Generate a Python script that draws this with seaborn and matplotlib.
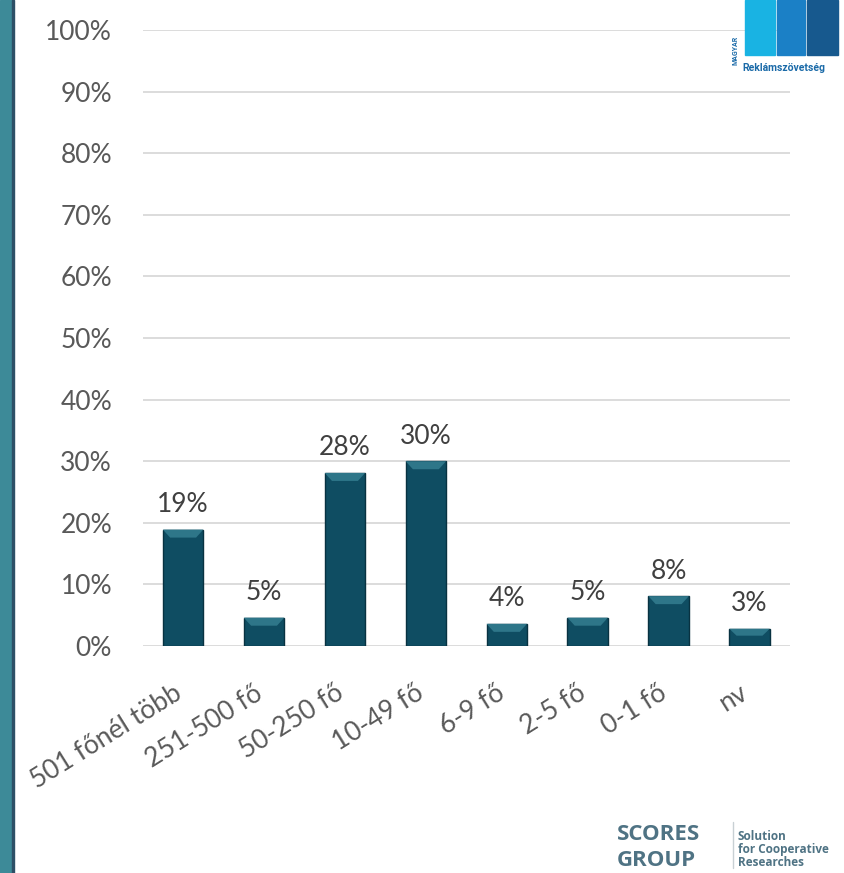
import numpy as np
import pandas as pd
import matplotlib
matplotlib.use("Agg")
import matplotlib.pyplot as plt
import seaborn as sns
from matplotlib.patches import Rectangle, Polygon
from matplotlib.lines import Line2D

# data (percent)
categories = ["501 főnél több", "251-500 fő", "50-250 fő", "10-49 fő",
              "6-9 fő", "2-5 fő", "0-1 fő", "nv"]
shares = [18.9, 4.6, 28.1, 30.0, 3.6, 4.6, 8.1, 2.8]
y_ticks = [0, 10, 20, 30, 40, 50, 60, 70, 80, 90, 100]

df = pd.DataFrame({"kategoria": categories, "arany": shares})

sns.set_style("white")
plt.rcParams["font.family"] = ["Lato", "DejaVu Sans"]

fig = plt.figure(figsize=(8.44, 8.73), dpi=100)
ax = fig.add_axes([0.169, 0.26, 0.767, 0.7056])

bar_col = "#0f4d62"
sns.barplot(data=df, x="kategoria", y="arany", color=bar_col, saturation=1,
            width=0.5, ax=ax, edgecolor="#083241", linewidth=1.0, zorder=3)

# light bevel on top of each bar
for p in ax.containers[0]:
    x0, w, h = p.get_x(), p.get_width(), p.get_height()
    t = min(1.3, h * 0.4)
    d = w * 0.18
    ax.add_patch(Polygon([(x0, h), (x0 + w, h), (x0 + w - d, h - t), (x0 + d, h - t)],
                         closed=True, facecolor="#2e7689", edgecolor="none", zorder=4))

ax.set_ylim(0, 100)
ax.set_yticks(y_ticks)
ax.set_yticklabels([f"{t}%" for t in y_ticks])
ax.grid(axis="y", color="#d9d9d9", linewidth=1.3, zorder=0)
ax.grid(axis="x", visible=False)
for s in ax.spines.values():
    s.set_visible(False)
ax.tick_params(axis="y", length=0, pad=22, labelsize=19, labelcolor="#595959")
ax.tick_params(axis="x", length=0, pad=37, labelsize=19, labelcolor="#595959")
ax.set_xlabel("")
ax.set_ylabel("")
for lab in ax.get_xticklabels():
    lab.set_rotation(32)
    lab.set_ha("right")
    lab.set_va("baseline")
    lab.set_rotation_mode("anchor")

ax.bar_label(ax.containers[0], labels=[f"{round(v)}%" for v in shares],
             padding=9, fontsize=19, color="#404040")

# teal strip on the left edge
fig.patches.append(Rectangle((0, 0), 12 / 844, 1, transform=fig.transFigure,
                             color="#3d8a98", zorder=0))
fig.patches.append(Rectangle((12 / 844, 0), 2 / 844, 1, transform=fig.transFigure,
                             color="#2d4f66", zorder=0))

# top-right logo (Magyar Reklámszövetség)
for x0, w, c in [(745, 30, "#19b3e3"), (777, 28, "#1b80c6"), (807, 31, "#17598e")]:
    fig.patches.append(Rectangle((x0 / 844, 1 - 55 / 873), w / 844, 55 / 873,
                                 transform=fig.transFigure, color=c))
fig.text(742 / 844, 1 - 68 / 873, "Reklámszövetség", fontsize=7.5, fontweight="bold",
         color="#1a6aa8", va="center", ha="left", family="Roboto")
fig.text(735 / 844, 1 - 50 / 873, "MAGYAR", fontsize=5, fontweight="bold",
         color="#1a6aa8", rotation=90, va="center", ha="center", family="Roboto")

# bottom-right logo (Scores Group)
fig.text(617 / 844, 1 - 835 / 873, "SCORES", fontsize=16, fontweight="bold",
         color="#4f7384", va="center", ha="left", family="Open Sans")
fig.text(617 / 844, 1 - 860 / 873, "GROUP", fontsize=16, fontweight="bold",
         color="#4f7384", va="center", ha="left", family="Open Sans")
fig.lines.append(Line2D([733 / 844, 733 / 844], [1 - 868 / 873, 1 - 822 / 873],
                        transform=fig.transFigure, color="#c8d0d4", linewidth=1))
fig.text(738 / 844, 1 - 849 / 873, "Solution\nfor Cooperative\nResearches",
         fontsize=8.5, fontweight="bold", color="#4f7384", va="center", ha="left",
         linespacing=1.0, family="Open Sans")

fig.savefig("out.png", dpi=100)
